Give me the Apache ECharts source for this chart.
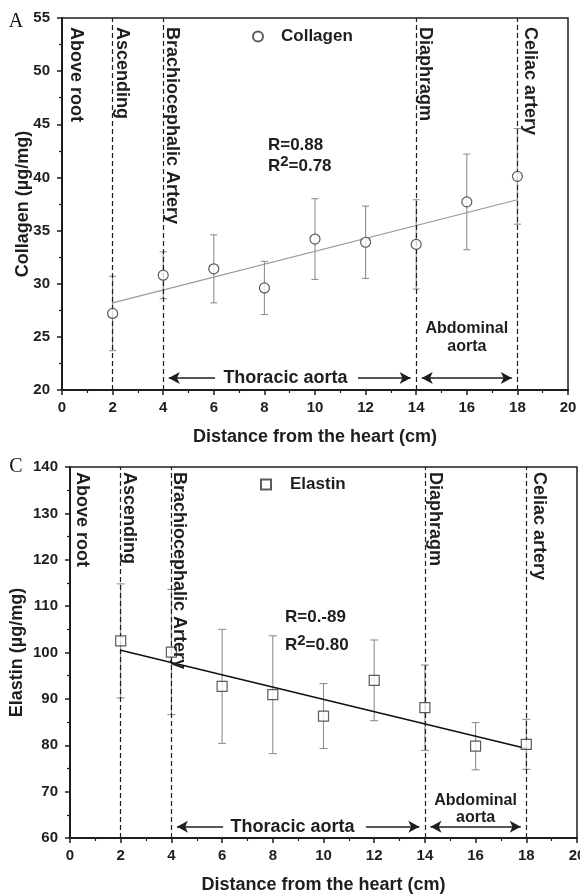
<!DOCTYPE html>
<html>
<head>
<meta charset="utf-8">
<script src="https://cdn.jsdelivr.net/npm/echarts@6/dist/echarts.min.js"></script>
<style>
  html, body { margin: 0; padding: 0; background: #fff; }
  #chart { width: 580px; height: 894px; }
</style>
</head>
<body>
<div id="chart"></div>
<script>
// Sampling positions along the aorta (cm from the heart)
const distance = [2, 4, 6, 8, 10, 12, 14, 16, 18];

// Panel A: collagen content (µg/mg), mean and SD
const collagen    = [27.2, 30.8, 31.4, 29.6, 34.2, 33.9, 33.7, 37.7, 40.1];
const collagenErr = [3.5, 2.2, 3.2, 2.5, 3.8, 3.4, 4.2, 4.5, 4.5];
const collagenFit = [[2, 28.2], [18, 37.9]];

// Panel C: elastin content (µg/mg), mean and SD
const elastin    = [102.5, 100.1, 92.7, 90.9, 86.3, 94.0, 88.1, 79.8, 80.2];
const elastinErr = [12.3, 13.5, 12.3, 12.7, 7.0, 8.7, 9.2, 5.1, 5.4];
const elastinFit = [[2, 100.5], [18, 79.3]];

// Anatomical landmarks (cm)
const landmarks = [2, 4, 14, 18];
const landmarkNames = ['Ascending', 'Brachiocephalic Artery', 'Diaphragm', 'Celiac artery'];

// Axis ranges
const xRange = { min: 0, max: 20, interval: 2 };
const yRangeA = { min: 20, max: 55, interval: 5 };
const yRangeC = { min: 60, max: 140, interval: 10 };

const FONT = "'Liberation Sans', Arial, sans-serif";
const INK = '#1e1e1e';

const chart = echarts.init(document.getElementById('chart'), null, { renderer: 'canvas' });

function xAxisCfg(gridIndex, gap) {
  return {
    type: 'value', gridIndex, min: xRange.min, max: xRange.max, interval: xRange.interval,
    name: 'Distance from the heart (cm)', nameLocation: 'middle', nameGap: gap,
    nameMoveOverlap: false,
    nameTextStyle: { fontFamily: FONT, fontWeight: 'bold', fontSize: 18, color: INK },
    axisLine: { show: true, onZero: false, lineStyle: { color: INK, width: 2 } },
    axisTick: { show: true, inside: false, length: 5, lineStyle: { color: INK, width: 1.5 } },
    minorTick: { show: true, splitNumber: 2, length: 3, lineStyle: { color: INK, width: 1.2 } },
    axisLabel: { margin: 10, fontFamily: FONT, fontWeight: 'bold', fontSize: 15, color: INK },
    splitLine: { show: false }, minorSplitLine: { show: false }
  };
}
function yAxisCfg(gridIndex, range, name, gap) {
  return {
    type: 'value', gridIndex, min: range.min, max: range.max, interval: range.interval,
    name, nameLocation: 'middle', nameGap: gap, nameMoveOverlap: false,
    nameTextStyle: { fontFamily: FONT, fontWeight: 'bold', fontSize: 18, color: INK },
    axisLine: { show: true, onZero: false, lineStyle: { color: INK, width: 2 } },
    axisTick: { show: true, inside: false, length: 5, lineStyle: { color: INK, width: 1.5 } },
    minorTick: { show: true, splitNumber: 2, length: 3, lineStyle: { color: INK, width: 1.2 } },
    axisLabel: { margin: 12, fontFamily: FONT, fontWeight: 'bold', fontSize: 15, color: INK },
    splitLine: { show: false }, minorSplitLine: { show: false }
  };
}

function errorSeries(idx, values, errors, capHalf) {
  return {
    type: 'custom', xAxisIndex: idx, yAxisIndex: idx, silent: true, z: 2,
    data: distance.map((d, i) => [d, values[i] - errors[i], values[i] + errors[i]]),
    encode: { x: 0, y: [1, 2] },
    renderItem(params, api) {
      const lo = api.coord([api.value(0), api.value(1)]);
      const hi = api.coord([api.value(0), api.value(2)]);
      const st = { stroke: '#8f8f8f', lineWidth: 1.1 };
      return {
        type: 'group', children: [
          { type: 'line', shape: { x1: lo[0], y1: lo[1], x2: hi[0], y2: hi[1] }, style: st },
          { type: 'line', shape: { x1: hi[0] - capHalf, y1: hi[1], x2: hi[0] + capHalf, y2: hi[1] }, style: st },
          { type: 'line', shape: { x1: lo[0] - capHalf, y1: lo[1], x2: lo[0] + capHalf, y2: lo[1] }, style: st }
        ]
      };
    }
  };
}

// Dashed landmark lines plus the region arrows at the foot of each panel
function guideLines(arrowY, thoracicLeftEnd, thoracicRightStart) {
  const dashed = { type: [5, 3], color: INK, width: 1.2 };
  const solid = { type: 'solid', color: INK, width: 1.5 };
  const arrow = (from, to, both) => [
    { coord: [from, arrowY], symbol: both ? 'arrow' : 'none', lineStyle: solid },
    { coord: [to, arrowY], symbol: 'arrow' }
  ];
  return {
    silent: true, animation: false, symbol: 'none', symbolSize: [9, 11],
    label: { show: false },
    emphasis: { disabled: true },
    data: landmarks.map(v => ({ xAxis: v, lineStyle: dashed }))
      .concat([
        arrow(thoracicLeftEnd, 4 + 0.22),
        arrow(thoracicRightStart, 14 - 0.22),
        arrow(14 + 0.22, 18 - 0.22, true)
      ])
  };
}

const gridBase = {
  show: true, borderColor: INK, borderWidth: 1.5, backgroundColor: 'transparent',
  containLabel: false, outerBoundsMode: 'none'
};

chart.setOption({
  animation: false,
  backgroundColor: '#fff',
  grid: [
    Object.assign({ left: 62, top: 18, width: 506, height: 372 }, gridBase),
    Object.assign({ left: 70, top: 467, width: 507, height: 371 }, gridBase)
  ],
  xAxis: [xAxisCfg(0, 38), xAxisCfg(1, 38)],
  yAxis: [
    yAxisCfg(0, yRangeA, 'Collagen (µg/mg)', 30),
    yAxisCfg(1, yRangeC, 'Elastin (µg/mg)', 44)
  ],
  legend: [
    {
      data: ['Collagen'], left: 252, top: 28, padding: 0, itemWidth: 10, itemHeight: 10, selectedMode: false,
      textStyle: { fontFamily: FONT, fontWeight: 'bold', fontSize: 17, color: INK, padding: [0, 0, 0, 13] }
    },
    {
      data: ['Elastin'], left: 260, top: 476, padding: 0, itemWidth: 10, itemHeight: 10, selectedMode: false,
      textStyle: { fontFamily: FONT, fontWeight: 'bold', fontSize: 17, color: INK, padding: [0, 0, 0, 14] }
    }
  ],
  series: [
    {
      name: 'collagen fit', type: 'line', xAxisIndex: 0, yAxisIndex: 0, data: collagenFit,
      showSymbol: false, silent: true, z: 3,
      lineStyle: { color: '#9a9a9a', width: 1.2 },
      markLine: guideLines(21.13, 6.05, 11.7)
    },
    errorSeries(0, collagen, collagenErr, 3.5),
    {
      name: 'Collagen', type: 'scatter', xAxisIndex: 0, yAxisIndex: 0,
      data: distance.map((d, i) => [d, collagen[i]]),
      symbol: 'circle', symbolSize: 10, z: 5,
      itemStyle: { color: '#fff', borderColor: '#333', borderWidth: 1.2 }
    },
    {
      name: 'elastin fit', type: 'line', xAxisIndex: 1, yAxisIndex: 1, data: elastinFit,
      showSymbol: false, silent: true, z: 3,
      lineStyle: { color: '#111', width: 1.6 },
      markLine: guideLines(62.4, 6.04, 11.68)
    },
    errorSeries(1, elastin, elastinErr, 4),
    {
      name: 'Elastin', type: 'scatter', xAxisIndex: 1, yAxisIndex: 1,
      data: distance.map((d, i) => [d, elastin[i]]),
      symbol: 'rect', symbolSize: 10, z: 5,
      itemStyle: { color: '#fff', borderColor: '#333', borderWidth: 1.2 }
    }
  ]
});

// Text annotations placed through each panel's own axes
function px(gridIndex, x, y) {
  return chart.convertToPixel({ gridIndex }, [x, y]);
}
function textEl(p, text, opts) {
  return {
    type: 'text', x: p[0], y: p[1], rotation: opts.rotation || 0, z: 10, silent: true,
    style: Object.assign({
      text, fill: INK, fontFamily: FONT, fontWeight: 'bold', fontSize: opts.fontSize || 17,
      align: opts.align || 'center', verticalAlign: opts.verticalAlign || 'middle'
    }, opts.style || {})
  };
}
function panelTexts(gi, yMax, cfg) {
  const els = [];
  const vertical = [{ x: 0, name: 'Above root', dx: cfg.rootDx }].concat(
    landmarks.map((v, i) => ({ x: v, name: landmarkNames[i], dx: cfg.dx[i] }))
  );
  vertical.forEach(l => {
    const p = px(gi, l.x, yMax);
    els.push(textEl([p[0] + l.dx, p[1] + cfg.topPad], l.name,
      { rotation: -Math.PI / 2, align: 'left', verticalAlign: 'middle', fontSize: 18 }));
  });
  els.push(textEl(px(gi, cfg.rX, cfg.rY1), cfg.r1, { align: 'left' }));
  els.push(textEl(px(gi, cfg.rX, cfg.rY2), 'R{s|2}=' + cfg.r2, {
    align: 'left',
    style: { rich: { s: { fontFamily: FONT, fontWeight: 'bold', fontSize: 15, fill: INK, padding: [0, 0, 9, 0] } } }
  }));
  els.push(textEl(px(gi, cfg.thoracicX, cfg.arrowY), 'Thoracic aorta', { fontSize: 18 }));
  els.push(textEl(px(gi, 16, cfg.abdY1), 'Abdominal', { fontSize: 16 }));
  els.push(textEl(px(gi, 16, cfg.abdY2), 'aorta', { fontSize: 16 }));
  return els;
}

const graphics = []
  .concat(panelTexts(0, yRangeA.max, {
    rootDx: 14, dx: [9, 9, 9, 13], topPad: 9,
    rX: 8.14, rY1: 43.05, rY2: 41.0, r1: 'R=0.88', r2: '0.78',
    thoracicX: 8.83, arrowY: 21.13, abdY1: 25.74, abdY2: 24.05
  }))
  .concat(panelTexts(1, yRangeC.max, {
    rootDx: 12, dx: [8, 8, 10, 12.5], topPad: 5,
    rX: 8.48, rY1: 107.6, rY2: 101.6, r1: 'R=0.-89', r2: '0.80',
    thoracicX: 8.78, arrowY: 62.4, abdY1: 68.0, abdY2: 64.5
  }))
  .concat([
    { type: 'text', x: 16, y: 22, z: 10, style: { text: 'A', fill: '#111', fontFamily: "'Liberation Serif', 'Times New Roman', serif", fontSize: 20, align: 'center', verticalAlign: 'middle' } },
    { type: 'text', x: 16, y: 467, z: 10, style: { text: 'C', fill: '#111', fontFamily: "'Liberation Serif', 'Times New Roman', serif", fontSize: 20, align: 'center', verticalAlign: 'middle' } }
  ]);

chart.setOption({ graphic: graphics });
</script>
</body>
</html>
